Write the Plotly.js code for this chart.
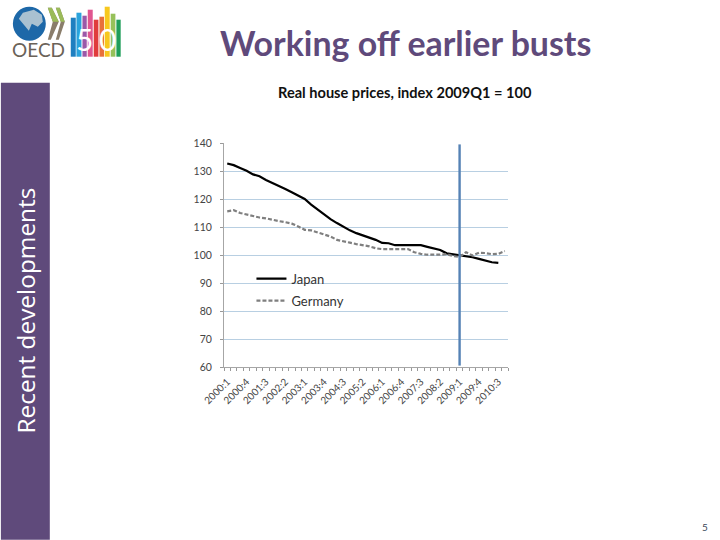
<!DOCTYPE html>
<html><head><meta charset="utf-8">
<script src="https://cdn.plot.ly/plotly-3.0.1.min.js"></script>
<style>html,body{margin:0;padding:0;background:#fff}</style>
</head><body><div id="chart" style="width:720px;height:540px"></div>
<script>
const categories = [
 '2000:1','2000:2','2000:3','2000:4','2001:1','2001:2','2001:3','2001:4','2002:1','2002:2','2002:3','2002:4',
 '2003:1','2003:2','2003:3','2003:4','2004:1','2004:2','2004:3','2004:4','2005:1','2005:2','2005:3','2005:4',
 '2006:1','2006:2','2006:3','2006:4','2007:1','2007:2','2007:3','2007:4','2008:1','2008:2','2008:3','2008:4',
 '2009:1','2009:2','2009:3','2009:4','2010:1','2010:2','2010:3','2010:4'];
const japan = [132.7,132.1,131.1,130.1,128.8,128.1,126.8,125.8,124.8,123.6,122.4,121.3,120,118,116.2,114.4,112.8,111.4,110,108.8,107.8,107,106.2,105.4,104.3,104.2,103.5,103.5,103.5,103.5,103.5,102.9,102.3,101.8,100.6,100.3,100,99.6,99.2,98.6,97.9,97.4,97.2,null];
const germany = [115.6,116,115,114.4,113.9,113.4,113.1,112.5,112.1,111.7,111.2,110.2,109,108.8,108.1,107.3,106.6,105.4,104.8,104.4,103.9,103.5,103.1,102.4,102.1,102.1,102.1,102.1,102.1,101,100.4,100.1,100,100.1,100.3,99.6,99.3,101,99.8,100.8,100.7,100.3,100.4,101.4];
const markerX = ['2009:1','2009:1'];
const markerY = [139.5,60.5];
const tickLabels = categories.map((c,i)=> i%3===0 ? c : '');
const yTicks = [60,70,80,90,100,110,120,130,140];

// frame of the plot area in page pixels
const L=223.5,R=508,T=143.3,B=367.3;
const px=x=>(x-L)/(R-L), py=y=>(B-y)/(B-T);
const FONT='Lato, "Open Sans", sans-serif';

function rect(x0,y0,x1,y1,c){return {type:'rect',xref:'paper',yref:'paper',x0:px(x0),x1:px(x1),y0:py(y0),y1:py(y1),fillcolor:c,line:{width:0},layer:'above'};}
function poly(pts,c){const d='M'+pts.map(p=>px(p[0])+','+py(p[1])).join('L')+'Z';return {type:'path',xref:'paper',yref:'paper',path:d,fillcolor:c,line:{width:0}};}
function note(x,y,t,size,color,extra){return Object.assign({xref:'paper',yref:'paper',x:px(x),y:py(y),text:t,showarrow:false,font:{family:FONT,size:size,color:color},xanchor:'center',yanchor:'middle'},extra||{});}

const shapes=[
 rect(0,83,49,540,'#5f4a7b'),
 {type:'circle',xref:'paper',yref:'paper',x0:px(12),x1:px(45),y0:py(41),y1:py(7),fillcolor:'#1d68a8',line:{width:0}},
 poly([[22,13],[33,10],[41,15],[42,22],[37,27],[31,24],[28,31],[23,25],[18,19]],'#a9c1d1'),
 poly([[47,8],[51,8],[58,22],[50,40],[47,40],[52,22]],'#8a7d6b'),
 poly([[47,8],[51,8],[58,22],[52,22]],'#9bbb59'),
 poly([[55,8],[59,8],[64,22],[58,40],[55,40],[60,22]],'#8a7d6b'),
 poly([[55,8],[59,8],[64,22],[60,22]],'#9bbb59'),
 rect(70,18,75,57,'#1f7fc0'),rect(75.7,13,80.7,57,'#2aa3dc'),rect(81.7,16,86,57,'#9b59a8'),
 rect(87,10,92,57,'#e0568f'),rect(93,20,97.7,57,'#e03c3c'),rect(98.7,17,103.3,57,'#e8703a'),
 rect(104,7,109,57,'#f7c81e'),rect(110,14,114.7,57,'#96c15a'),rect(115.7,20,120,57,'#1f9e5a')
];
const annotations=[
 note(405.5,43,'<b>Working off earlier busts</b>',33.9,'#5f4a7b'),
 note(405,93,'<b>Real house prices, index 2009Q1 = 100</b>',14.6,'#111111'),
 note(25,311,'Recent developments',24,'#ffffff',{textangle:-90,font:{family:'"Open Sans", sans-serif',size:24.4,color:'#ffffff'}}),
 note(705,527,'5',10,'#3a4a5a'),
 note(37.5,50,'OECD',19,'#6b6258'),
 note(84,39,'5',30,'#ffffff'),
 note(107,39,'0',30,'#ffffff')
];

const data=[
 {type:'scatter',mode:'lines',name:'Japan',x:categories,y:japan,line:{color:'#000000',width:2.2},legendgroup:'a'},
 {type:'scatter',mode:'lines',name:'Germany',x:categories,y:germany,line:{color:'#7f7f7f',width:2.2,dash:'4px,2px'},legendgroup:'b'},
 {type:'scatter',mode:'lines',name:'2009:1',x:markerX,y:markerY,line:{color:'#5582b5',width:2.4},showlegend:false}
];
const layout={
 width:720,height:540,showlegend:true,paper_bgcolor:'#fff',plot_bgcolor:'#fff',
 font:{family:FONT,color:'#333'},
 margin:{l:L,r:720-R,t:T,b:540-B,pad:0},
 xaxis:{type:'category',categoryorder:'array',categoryarray:categories,range:[-0.5,43.5],tickmode:'array',tickvals:categories,ticktext:tickLabels,
   tickson:'boundaries',ticks:'outside',ticklen:3,tickcolor:'#999',tickangle:-45,tickfont:{size:10,color:'#444'},ticklabelstandoff:4,showgrid:false,showline:true,linecolor:'#a6a6a6',linewidth:1,zeroline:false,automargin:false},
 yaxis:{range:[60,140],tickmode:'array',tickvals:yTicks,ticks:'outside',ticklen:3,tickcolor:'#999',tickfont:{size:10.5,color:'#444'},ticklabelstandoff:6,gridcolor:'#b8cfe2',gridwidth:1,showline:true,linecolor:'#a6a6a6',linewidth:1,zeroline:false,automargin:false},
 legend:{x:px(251),y:py(264),xanchor:'left',yanchor:'top',bgcolor:'rgba(0,0,0,0)',font:{size:13,color:'#333'},tracegroupgap:2,itemwidth:30},
 shapes:shapes,annotations:annotations
};
Plotly.newPlot('chart',data,layout,{displayModeBar:false,staticPlot:true});
</script></body></html>
